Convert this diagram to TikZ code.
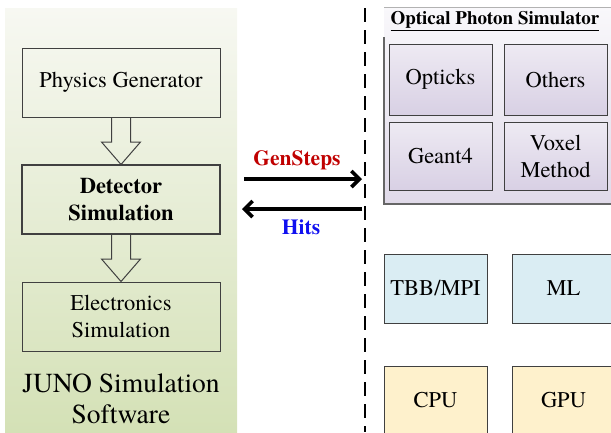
\documentclass[tikz,border=0pt]{standalone}
\usepackage{fontspec}
\setmainfont{texgyretermes}[Extension=.otf, UprightFont=*-regular, BoldFont=*-bold, ItalicFont=*-italic, BoldItalicFont=*-bolditalic]
\usetikzlibrary{arrows.meta}
\definecolor{panelTop}{HTML}{F7F8F2}
\definecolor{panelBot}{HTML}{D4E1B6}
\definecolor{optTop}{HTML}{F9F8FB}
\definecolor{optBot}{HTML}{E0DAE9}
\definecolor{inTop}{HTML}{EEEAF3}
\definecolor{inBot}{HTML}{D8D0E4}
\definecolor{blueFill}{HTML}{DAEDF3}
\definecolor{yelFill}{HTML}{FEF1CC}
\definecolor{edge}{HTML}{404040}
\definecolor{genRed}{HTML}{C00000}
\definecolor{hitBlue}{HTML}{1010F0}
\tikzset{
  lbox/.style={draw=edge, line width=1pt, minimum width=198pt, minimum height=69pt,
    inner sep=0pt, align=center, font=\fontsize{22.5}{27}\selectfont},
  sbox/.style={draw=edge, line width=1pt, minimum width=103pt, minimum height=69pt,
    inner sep=0pt, align=center, font=\fontsize{22.5}{27}\selectfont},
  purp/.style={sbox, top color=inTop, bottom color=inBot},
  hollow/.style={draw=edge, line width=1pt, fill=none},
  flow/.style={line width=3.6pt, -{Straight Barb[length=8pt,width=16pt]}},
}
\begin{document}
\begin{tikzpicture}[x=1pt,y=-1pt]
\useasboundingbox (0,0) rectangle (611,432);
% left panel
\shade[top color=panelTop, bottom color=panelBot] (5,8) rectangle (237,432);
\node[lbox] (phys) at (121,82.5) {Physics Generator};
\node[lbox, line width=2pt, font=\fontsize{22.5}{27}\selectfont\bfseries] (det) at (121,199.5) {Detector\\Simulation};
\node[lbox] (elec) at (121,316.5) {Electronics\\Simulation};
\node[align=center, font=\fontsize{27.5}{31}\selectfont] (juno) at (121,398.5) {JUNO Simulation\\Software};
% hollow arrows
\draw[hollow] (phys.south -| 111.5,0) -- (111.5,142) -- (101.5,142) -- (121,164.5) -- (140.5,142) -- (130.5,142) -- (phys.south -| 130.5,0);
\draw[hollow] (det.south -| 111.5,0) -- (111.5,259) -- (101.5,259) -- (121,281.5) -- (140.5,259) -- (130.5,259) -- (det.south -| 130.5,0);
% dashed divider
\coordinate (dtop) at (365,8);
\coordinate (dbot) at (365,432);
\draw[line width=2.4pt, dash pattern=on 14pt off 8pt] (dtop) -- (dbot);
% flows
\coordinate (gsA) at (244,179);
\coordinate (gsB) at (362,179);
\coordinate (hA) at (362,209);
\coordinate (hB) at (242,209);
\draw[flow] (gsA) -- (gsB);
\draw[flow] (hA) -- (hB);
\node[text=genRed, font=\fontsize{21.5}{25}\selectfont\bfseries] (gs) at (297,160) {GenSteps};
\node[text=hitBlue, font=\fontsize{21.5}{25}\selectfont\bfseries] (hits) at (301,227) {Hits};
% optical photon simulator
\shade[top color=optTop, bottom color=optBot] (384,7) rectangle (620,204);
\draw[gray!60, line width=0.8pt] (384,7) -- (620,7);
\draw[edge!80, line width=1.6pt] (384,37) -- (384,204) -- (620,204);
\node[font=\fontsize{19}{22}\selectfont\bfseries] (title) at (495,21) {\underline{Optical Photon Simulator}};
\node[purp] (opticks) at (440.5,79.5) [minimum height=71pt] {Opticks};
\node[purp] (others) at (555.5,79.5) [minimum height=71pt] {Others};
\node[purp] (geant) at (440.5,156) [minimum height=68pt] {Geant4};
\node[purp] (voxel) at (555.5,156) [minimum height=68pt] {Voxel\\Method};
% lower boxes
\node[sbox, fill=blueFill] (tbb) at (435.5,288.5) {TBB/MPI};
\node[sbox, fill=blueFill] (ml) at (563.5,288.5) {ML};
\node[sbox, fill=yelFill] (cpu) at (435.5,400.5) {CPU};
\node[sbox, fill=yelFill] (gpu) at (563.5,400.5) {GPU};
\end{tikzpicture}
\end{document}
